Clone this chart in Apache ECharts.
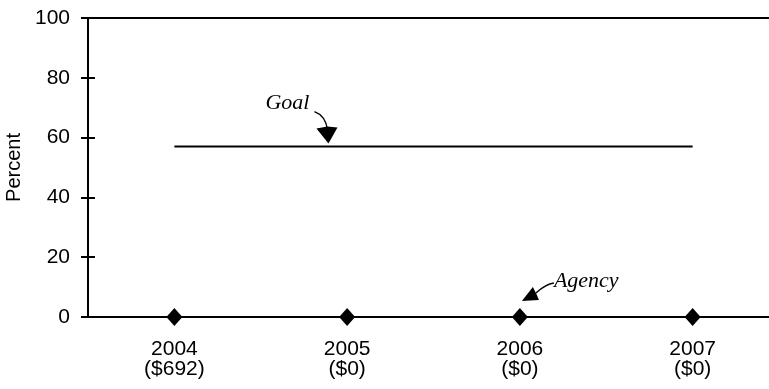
<!DOCTYPE html>
<html><head><meta charset="utf-8">
<script src="https://cdn.jsdelivr.net/npm/echarts@6/dist/echarts.min.js"></script>
<style>html,body{margin:0;padding:0;background:#fff}#c{width:769px;height:389px}</style>
</head><body><div id="c"></div>
<script>
var years = ['2004', '2005', '2006', '2007'];
var funding = ['($692)', '($0)', '($0)', '($0)'];
var agency = [0, 0, 0, 0];
var goal = [57, 57, 57, 57];
var yTicks = [0, 20, 40, 60, 80, 100];

var categories = years.map(function (y, i) { return y + '\n' + funding[i]; });
var chart = echarts.init(document.getElementById('c'), null, { renderer: 'canvas' });
var font = 'Liberation Sans, Arial, sans-serif';
var option = {
  animation: false,
  grid: { left: 88, top: 18, width: 691, height: 299, outerBoundsMode: 'none', containLabel: false,
          show: true, borderColor: '#000', borderWidth: 2, backgroundColor: 'transparent' },
  xAxis: {
    type: 'category', data: categories, boundaryGap: true,
    axisLine: { lineStyle: { color: '#000', width: 2 } },
    axisTick: { show: false },
    axisLabel: { color: '#000', fontSize: 21, fontFamily: font, margin: 22, lineHeight: 20 }
  },
  yAxis: [{
    type: 'value', min: yTicks[0], max: yTicks[yTicks.length - 1], interval: 20,
    name: 'Percent', nameLocation: 'middle', nameGap: 60, nameRotate: 90,
    nameTextStyle: { color: '#000', fontSize: 20, fontFamily: font },
    axisLine: { show: true, lineStyle: { color: '#000', width: 2 } },
    axisTick: { show: true, length: 7, lineStyle: { color: '#000', width: 2 } },
    axisLabel: { color: '#000', fontSize: 21, fontFamily: font, margin: 18 },
    splitLine: { show: false }
  }, {
    type: 'value', min: 0, max: 100, interval: 20, position: 'left',
    axisLine: { show: false },
    axisTick: { show: true, inside: true, length: 7, lineStyle: { color: '#000', width: 2 } },
    axisLabel: { show: false }, splitLine: { show: false }
  }],
  series: [{
    name: 'Goal', type: 'line', data: goal, symbol: 'none',
    lineStyle: { color: '#000', width: 2 }, z: 3
  }, {
    name: 'Agency', type: 'line', data: agency, symbol: 'diamond', symbolSize: [16, 18],
    itemStyle: { color: '#000' }, lineStyle: { color: '#000', width: 2 }, z: 4
  }]
};
chart.setOption(option);

// annotations anchored to data coordinates
var p0 = chart.convertToPixel({ seriesIndex: 0 }, [0, goal[0]]);
var p1 = chart.convertToPixel({ seriesIndex: 0 }, [1, goal[1]]);
var G = [p0[0] + 0.892 * (p1[0] - p0[0]), p0[1]];
var A = chart.convertToPixel({ seriesIndex: 1 }, [2, agency[2]]);
function off(P, dx, dy) { return [P[0] + dx, P[1] + dy]; }
var serif = 'italic 22px "Liberation Serif", "DejaVu Serif", serif';
chart.setOption({
  graphic: [
    { type: 'text', style: { x: G[0] - 19, y: G[1] - 32, text: 'Goal', font: serif, fill: '#000', align: 'right', verticalAlign: 'bottom' } },
    { type: 'bezierCurve', shape: { x1: G[0] - 14, y1: G[1] - 35, cpx1: G[0] - 3, cpy1: G[1] - 31, x2: G[0] - 1, y2: G[1] - 17 },
      style: { stroke: '#000', lineWidth: 1.4, fill: null } },
    { type: 'polygon', shape: { points: [off(G, -12, -18), off(G, -1, -20), off(G, 9, -19), off(G, 0, -3)] }, style: { fill: '#000' } },
    { type: 'text', style: { x: A[0] + 34, y: A[1] - 25, text: 'Agency', font: serif, fill: '#000', align: 'left', verticalAlign: 'bottom' } },
    { type: 'bezierCurve', shape: { x1: A[0] + 34, y1: A[1] - 34, cpx1: A[0] + 26, cpy1: A[1] - 33, x2: A[0] + 16, y2: A[1] - 24 },
      style: { stroke: '#000', lineWidth: 1.4, fill: null } },
    { type: 'polygon', shape: { points: [off(A, 19, -17), off(A, 17, -22), off(A, 13, -30), off(A, 2, -16)] }, style: { fill: '#000' } }
  ]
});
</script></body></html>
